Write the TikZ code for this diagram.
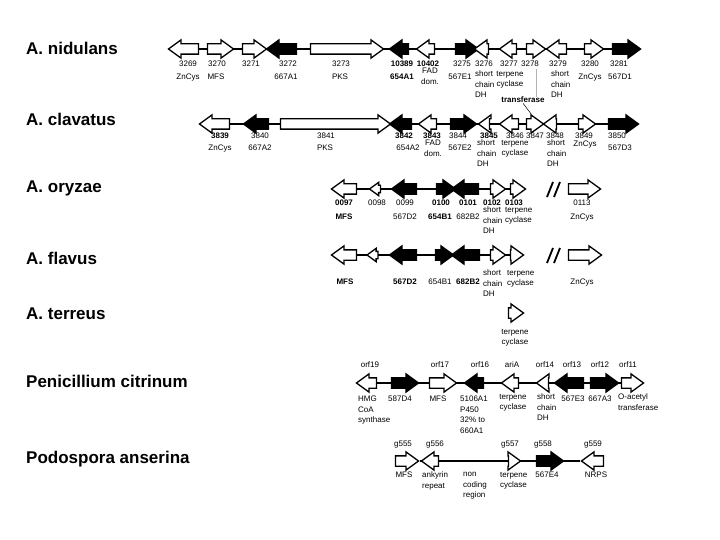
\documentclass[tikz,border=0pt]{standalone}
\usepackage{fontspec}
\setmainfont{Liberation Sans}
\usetikzlibrary{shapes.arrows, backgrounds}

\tikzset{
  gene/.style={single arrow, draw=black, fill=white, line width=1.3pt,
    inner xsep=0pt, inner ysep=4.5pt, minimum width=17pt,
    single arrow head extend=4pt, single arrow tip angle=72},
  fwd/.style={gene},
  rev/.style={gene, shape border rotate=180},
  hit/.style={fill=black},
  minigene/.style={inner ysep=3pt, minimum width=12pt, single arrow head extend=3pt},
  spine/.style={line width=1.3pt},
  cut/.style={line width=1.8pt},
  lbl/.style={font=\fontsize{8}{10.5}\selectfont, inner sep=0pt, anchor=north, align=center},
  lblb/.style={lbl, font=\fontsize{8}{10.5}\selectfont\bfseries},
  lblw/.style={lbl, anchor=north west, align=left},
  species/.style={font=\fontsize{17}{19}\selectfont\bfseries, anchor=west, inner sep=0pt},
}

\begin{document}
\begin{tikzpicture}[x=1pt, y=-1pt]
  \useasboundingbox (0,0) rectangle (720,540);

  % species
  \node[species] (nid) at (26,48) {A. nidulans};
  \node[species] (cla) at (26,119) {A. clavatus};
  \node[species] (ory) at (26,188) {A. oryzae};
  \node[species] (fla) at (26,258) {A. flavus};
  \node[species] (ter) at (26,314) {A. terreus};
  \node[species] (pci) at (26,381) {Penicillium citrinum};
  \node[species] (pan) at (26,459) {Podospora anserina};

  % A. nidulans
  \node[rev, minimum height=30pt] (g3269) at (187,49) {};
  \node[fwd, minimum height=26pt] (g3270) at (217,49) {};
  \node[fwd, minimum height=24pt] (g3271) at (251,49) {};
  \node[rev, hit, minimum height=30pt] (g3272) at (285,49) {};
  \node[fwd, minimum height=73pt] (g3273) at (343.5,49) {};
  \node[rev, hit, minimum height=19pt] (g10389) at (402.5,49) {};
  \node[rev, minimum height=18pt] (g10402) at (429,49) {};
  \node[fwd, hit, minimum height=23pt] (g3275) at (463.5,49) {};
  \node[rev, minimum height=14pt] (g3276) at (485,49) {};
  \node[rev, minimum height=17pt] (g3277) at (511.5,49) {};
  \node[fwd, minimum height=19pt] (g3278) at (532.5,49) {};
  \node[rev, minimum height=20pt] (g3279) at (560,49) {};
  \node[fwd, minimum height=19pt] (g3280) at (590.5,49) {};
  \node[fwd, hit, minimum height=28pt] (g3281) at (623,49) {};

  \node[lbl] (n3269) at (188,61) {3269};
  \node[lbl] (d3269) at (188,74) {ZnCys};
  \node[lbl] (n3270) at (217,61) {3270};
  \node[lbl] (d3270) at (216,74) {MFS};
  \node[lbl] (n3271) at (251,61) {3271};
  \node[lbl] (n3272) at (288,61) {3272};
  \node[lbl] (d3272) at (286,74) {667A1};
  \node[lbl] (n3273) at (341,61) {3273};
  \node[lbl] (d3273) at (340,74) {PKS};
  \node[lblb] (n10389) at (402,61) {10389};
  \node[lblb] (d10389) at (402,74) {654A1};
  \node[lblb] (n10402) at (428,61) {10402};
  \node[lbl] (d10402) at (430,68) {FAD\\dom.};
  \node[lbl] (n3275) at (462,61) {3275};
  \node[lbl] (d3275) at (460,74) {567E1};
  \node[lbl] (n3276) at (484,61) {3276};
  \node[lblw] (d3276) at (475,71) {short\\chain\\DH};
  \node[lbl] (n3277) at (509,61) {3277};
  \node[lbl] (d3277) at (510,71) {terpene\\cyclase};
  \node[lbl] (n3278) at (530,61) {3278};
  \node[lbl] (n3279) at (558,61) {3279};
  \node[lblw] (d3279) at (551,71) {short\\chain\\DH};
  \node[lbl] (n3280) at (590,61) {3280};
  \node[lbl] (d3280) at (590,74) {ZnCys};
  \node[lbl] (n3281) at (619,61) {3281};
  \node[lbl] (d3281) at (620,74) {567D1};
  \node[lblb] (tf) at (523,97) {transferase};

  % A. clavatus
  \node[rev, minimum height=30pt] (g3839) at (218,124) {};
  \node[rev, hit, minimum height=25pt] (g3840) at (259.5,124) {};
  \node[fwd, minimum height=110pt] (g3841) at (332,124) {};
  \node[rev, hit, minimum height=22pt] (g3842) at (404,124) {};
  \node[rev, minimum height=18pt] (g3843) at (431,124) {};
  \node[fwd, hit, minimum height=26pt] (g3844) at (460,124) {};
  \node[rev, minimum height=11pt] (g3845) at (487.5,124) {};
  \node[rev, minimum height=19pt] (g3846) at (512.5,124) {};
  \node[fwd, minimum height=17pt] (g3847) at (531.5,124) {};
  \node[rev, minimum height=13pt] (g3848) at (553.5,124) {};
  \node[fwd, minimum height=17pt] (g3849) at (583.5,124) {};
  \node[fwd, hit, minimum height=30pt] (g3850) at (620,124) {};

  \node[lblb] (n3839) at (220,133) {3839};
  \node[lbl] (d3839) at (220,145) {ZnCys};
  \node[lbl] (n3840) at (260,133) {3840};
  \node[lbl] (d3840) at (260,145) {667A2};
  \node[lbl] (n3841) at (326,133) {3841};
  \node[lbl] (d3841) at (325,145) {PKS};
  \node[lblb] (n3842) at (404,133) {3842};
  \node[lbl] (d3842) at (408,145) {654A2};
  \node[lblb] (n3843) at (432,133) {3843};
  \node[lbl] (d3843) at (433,140) {FAD\\dom.};
  \node[lbl] (n3844) at (458,133) {3844};
  \node[lbl] (d3844) at (460,145) {567E2};
  \node[lblb] (n3845) at (489,133) {3845};
  \node[lblw] (d3845) at (477,140) {short\\chain\\DH};
  \node[lbl] (n3846) at (515,133) {3846};
  \node[lbl] (d3846) at (515,140) {terpene\\cyclase};
  \node[lbl] (n3847) at (535,133) {3847};
  \node[lbl] (n3848) at (555,133) {3848};
  \node[lblw] (d3848) at (547,140) {short\\chain\\DH};
  \node[lbl] (n3849) at (584,133) {3849};
  \node[lbl] (d3849) at (585,141) {ZnCys};
  \node[lbl] (n3850) at (617,133) {3850};
  \node[lbl] (d3850) at (620,145) {567D3};

  % transferase pointers
  \coordinate (tfup) at (536,69);
  \draw[gray!60, line width=0.8pt] (tfup) -- (tfup |- tf.north);
  \draw[line width=0.5pt] (tf.south) -- (g3847.north);

  % A. oryzae
  \node[rev, minimum height=25pt] (o0097) at (347.5,189) {};
  \node[rev, minigene, minimum height=11pt] (o0098) at (377.5,189) {};
  \node[rev, hit, minimum height=25pt] (o0099) at (407.5,189) {};
  \node[fwd, hit, minimum height=19pt] (o0100) at (442.5,189) {};
  \node[rev, hit, minimum height=27pt] (o0101) at (468.5,189) {};
  \node[fwd, minimum height=15pt] (o0102) at (494.5,189) {};
  \node[fwd, minimum height=15pt] (o0103) at (514.5,189) {};
  \node[fwd, minimum height=32pt] (o0113) at (581,189) {};
  \draw[cut] (547,197) -- (553,182) (554,197) -- (560,182);

  \node[lblb] (n0097) at (344,200) {0097};
  \node[lblb] (d0097) at (344,214) {MFS};
  \node[lbl] (n0098) at (377,200) {0098};
  \node[lbl] (n0099) at (405,200) {0099};
  \node[lbl] (d0099) at (405,214) {567D2};
  \node[lblb] (n0100) at (441,200) {0100};
  \node[lblb] (d0100) at (440,214) {654B1};
  \node[lblb] (n0101) at (468,200) {0101};
  \node[lbl] (d0101) at (468,214) {682B2};
  \node[lblb] (n0102) at (492,200) {0102};
  \node[lblw] (d0102) at (483,207) {short\\chain\\DH};
  \node[lblb] (n0103) at (514,200) {0103};
  \node[lblw] (d0103) at (505,207) {terpene\\cyclase};
  \node[lbl] (n0113) at (582,200) {0113};
  \node[lbl] (d0113) at (582,214) {ZnCys};

  % A. flavus
  \node[rev, minimum height=25pt] (f1) at (347.5,255) {};
  \node[rev, minigene, minimum height=11pt] (f2) at (375,255) {};
  \node[rev, hit, minimum height=27pt] (f3) at (406.5,255) {};
  \node[fwd, hit, minimum height=18pt] (f4) at (441,255) {};
  \node[rev, hit, minimum height=28pt] (f5) at (469,255) {};
  \node[fwd, minimum height=15pt] (f6) at (494.5,255) {};
  \node[fwd, minimum height=13pt] (f7) at (513.5,255) {};
  \node[fwd, minimum height=33pt] (f8) at (581.5,255) {};
  \draw[cut] (547,263) -- (553,248) (554,263) -- (560,248);

  \node[lblb] (df1) at (345,279) {MFS};
  \node[lblb] (df3) at (405,279) {567D2};
  \node[lbl] (df4) at (440,279) {654B1};
  \node[lblb] (df5) at (468,279) {682B2};
  \node[lblb, lblw] (df6) at (483,270) {short\\chain\\DH};
  \node[lblw] (df7) at (507,270) {terpene\\cyclase};
  \node[lbl] (df8) at (582,279) {ZnCys};

  % A. terreus
  \node[fwd, minimum height=15pt] (t1) at (512.5,313) {};
  \node[lbl] (dt1) at (515,329) {terpene\\cyclase};

  % Penicillium citrinum
  \node[rev, minimum height=20pt] (porf19) at (370,383) {};
  \node[fwd, hit, minimum height=27pt] (p587d4) at (401.5,383) {};
  \node[fwd, minimum height=27pt] (porf17) at (439.5,383) {};
  \node[rev, hit, minimum height=19pt] (porf16) at (477.5,383) {};
  \node[rev, minimum height=17pt] (pariA) at (513.5,383) {};
  \node[rev, minimum height=12pt] (porf14) at (546,383) {};
  \node[rev, hit, minimum height=29pt] (porf13) at (572.5,383) {};
  \node[fwd, hit, minimum height=28pt] (porf12) at (601,383) {};
  \node[fwd, minimum height=22pt] (porf11) at (629,383) {};

  \node[lbl] (norf19) at (370,362) {orf19};
  \node[lbl] (norf17) at (440,362) {orf17};
  \node[lbl] (norf16) at (480,362) {orf16};
  \node[lbl] (nariA) at (512,362) {ariA};
  \node[lbl] (norf14) at (545,362) {orf14};
  \node[lbl] (norf13) at (572,362) {orf13};
  \node[lbl] (norf12) at (600,362) {orf12};
  \node[lbl] (norf11) at (628,362) {orf11};
  \node[lblw] (dorf19) at (358,396) {HMG\\CoA\\synthase};
  \node[lbl] (d587d4) at (400,396) {587D4};
  \node[lbl] (dorf17) at (438,396) {MFS};
  \node[lblw] (dorf16) at (460,396) {5106A1\\P450\\32\% to\\660A1};
  \node[lbl] (dariA) at (513,394) {terpene\\cyclase};
  \node[lblw] (dorf14) at (537,394) {short\\chain\\DH};
  \node[lbl] (dorf13) at (573,396) {567E3};
  \node[lbl] (dorf12) at (600,396) {667A3};
  \node[lblw] (dorf11) at (618,394) {O-acetyl\\transferase};

  % Podospora anserina
  \node[fwd, minimum height=23pt] (pg555) at (403.5,461) {};
  \node[rev, minimum height=17pt] (pg556) at (433.5,461) {};
  \node[fwd, minimum height=12pt] (pg557) at (511,461) {};
  \node[fwd, hit, minimum height=27pt] (pg558) at (546.5,461) {};
  \node[rev, minimum height=22pt] (pg559) at (596,461) {};

  \node[lbl] (ng555) at (403,441) {g555};
  \node[lbl] (ng556) at (435,441) {g556};
  \node[lbl] (ng557) at (510,441) {g557};
  \node[lbl] (ng558) at (543,441) {g558};
  \node[lbl] (ng559) at (593,441) {g559};
  \node[lbl] (dg555) at (404,472) {MFS};
  \node[lblw] (dg556) at (422,472) {ankyrin\\repeat};
  \node[lblw] (dnc) at (463,472) {non\\coding\\region};
  \node[lblw] (dg557) at (500,472) {terpene\\cyclase};
  \node[lbl] (dg558) at (547,472) {567E4};
  \node[lbl] (dg559) at (596,472) {NRPS};

  % backbones
  \begin{scope}[on background layer]
    \fill[white] (0,0) rectangle (720,540);
    \draw[spine] (g3269) -- (g3281);
    \draw[spine] (g3839) -- (g3850);
    \draw[spine] (o0097) -- (o0103);
    \draw[spine] (f1) -- (f7);
    \draw[spine] (porf19) -- (porf11);
    \draw[spine] (pg555) -- (pg559);
  \end{scope}
\end{tikzpicture}
\end{document}
